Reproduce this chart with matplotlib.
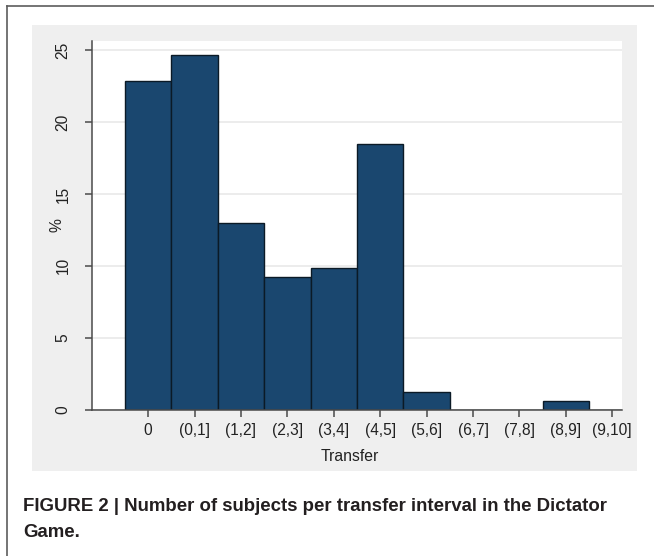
import matplotlib
matplotlib.use("Agg")
import matplotlib.pyplot as plt
from matplotlib.patches import Rectangle
from matplotlib.lines import Line2D

plt.rcParams['font.family'] = ['Liberation Sans', 'DejaVu Sans']

# transfer intervals and share of subjects (%)
categories = ['0', '(0,1]', '(1,2]', '(2,3]', '(3,4]', '(4,5]',
              '(5,6]', '(6,7]', '(7,8]', '(8,9]', '(9,10]']
percent = [22.84, 24.69, 12.96, 9.26, 9.88, 18.52, 1.23, 0, 0, 0.62, 0]
yticks = [0, 5, 10, 15, 20, 25]

W, H = 654, 556
fig = plt.figure(figsize=(W / 100, H / 100), dpi=100)
fig.patch.set_facecolor('white')

# page frame (top and left rule)
fig.add_artist(Line2D([7 / W, 1], [1 - 6 / H, 1 - 6 / H], transform=fig.transFigure,
                      color='#5c5c5c', lw=1.2))
fig.add_artist(Line2D([7 / W, 7 / W], [0, 1 - 6 / H], transform=fig.transFigure,
                      color='#5c5c5c', lw=1.2))

# stata-like grey graph region
fig.add_artist(Rectangle((32 / W, 1 - 470.7 / H), (637 - 32) / W, (470.7 - 25) / H,
                         transform=fig.transFigure, facecolor='#efefef',
                         edgecolor='none', zorder=0))

ax = fig.add_axes([92 / W, 1 - 409.5 / H, (622 - 92) / W, (409.5 - 41) / H])
ax.set_facecolor('white')

x = list(range(len(categories)))
ax.bar(x, percent, width=1.0, color='#1a476f', edgecolor='#0b1a26', linewidth=1.0, zorder=2)

ax.set_xlim(-1.21, 10.21)
ax.set_ylim(0, 25.66)
ax.set_xticks(x)
ax.set_xticklabels(categories)
ax.set_yticks(yticks)
ax.set_yticklabels([str(v) for v in yticks])

ax.set_axisbelow(True)
ax.yaxis.grid(True, color='#ebebeb', lw=1.3)

for s in ['top', 'right']:
    ax.spines[s].set_visible(False)
for s in ['left', 'bottom']:
    ax.spines[s].set_color('#4a4a4a')
    ax.spines[s].set_linewidth(1.1)
    ax.spines[s].set_zorder(3)

ax.tick_params(axis='both', length=4.8, width=1.1, color='#4a4a4a',
               labelsize=11.2, labelcolor='#222222')
ax.tick_params(axis='x', pad=5)
ax.tick_params(axis='y', pad=10.5, labelrotation=90)
for lab in ax.get_yticklabels():
    lab.set_va('center')

ax.set_xlabel('Transfer', fontsize=11.3, color='#222222')
ax.xaxis.set_label_coords(0.487, -0.128)
ax.xaxis.label.set_va('center')
ax.set_ylabel('%', fontsize=11.3, color='#222222', va='center')
ax.yaxis.set_label_coords(-0.066, 0.5)

# caption
fig.text(23 / W, 1 - 511 / H,
         'FIGURE 2 | Number of subjects per transfer interval in the Dictator',
         fontsize=13.4, fontweight='bold', color='#231f20', va='baseline', ha='left')
fig.text(23 / W, 1 - 537 / H, 'Game.',
         fontsize=13.4, fontweight='bold', color='#231f20', va='baseline', ha='left')

fig.savefig('out.png', dpi=100)
